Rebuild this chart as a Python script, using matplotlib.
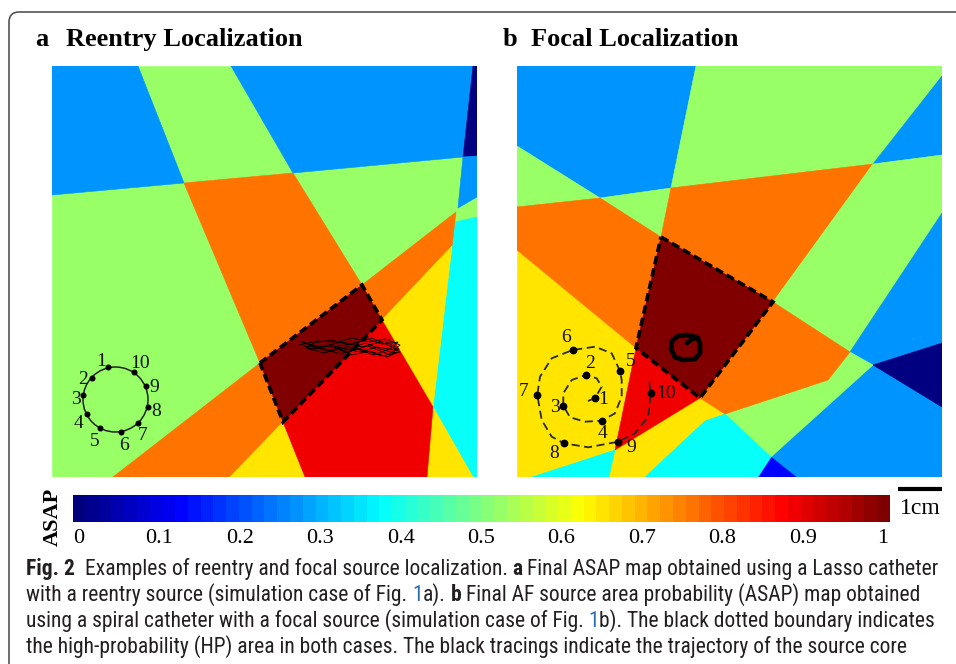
import numpy as np
import matplotlib
matplotlib.use("Agg")
import matplotlib.pyplot as plt
from matplotlib import font_manager
from matplotlib.colors import LinearSegmentedColormap
from matplotlib.patches import Polygon, Circle, FancyBboxPatch

W, H = 956, 664
MAP_W, MAP_H = 425, 411          # map grid size (cells)
CM_CELLS = 44                    # grid cells per centimetre

SERIF = "Liberation Serif"


def pick_caption_font():
    # a narrow sans reads closest to the journal caption face
    entries = font_manager.fontManager.ttflist
    for name in ["Liberation Sans Narrow", "Roboto Condensed", "Open Sans Condensed",
                 "Noto Sans Condensed", "DejaVu Sans Condensed"]:
        if any(f.name == name for f in entries):
            return name, "normal"
    for f in entries:
        if f.name == "DejaVu Sans" and f.stretch in ("condensed", "semi-condensed"):
            return "DejaVu Sans", f.stretch
    return "Roboto", "normal"


CAPTION_FONT, CAPTION_STRETCH = pick_caption_font()

# ── ASAP maps: region outlines (grid coords, y down) and probabilities ────────

REENTRY_POLYS = [
    [(0, 0), (425, 0), (425, 411), (0, 411)],
    [(0, 0), (86, 0), (132, 117), (0, 129)],
    [(179, 0), (421, 0), (411, 91), (241, 107)],
    [(421, 0), (425, 0), (425, 90), (411, 91)],
    [(411, 91), (425, 90), (425, 131), (406, 142)],
    [(403, 156), (425, 151), (425, 411), (421, 411), (381, 341)],
    [(132, 117), (241, 107), (310, 219), (208, 297)],
    [(310, 219), (404, 146), (400, 180), (330, 254)],
    [(61, 411), (208, 297), (231, 356), (178, 411)],
    [(178, 411), (231, 356), (253, 411)],
    [(330, 254), (400, 180), (381, 341)],
    [(381, 341), (421, 411), (375, 411)],
    [(231, 356), (330, 254), (381, 341), (375, 411), (253, 411)],
    [(208, 297), (310, 219), (330, 254), (231, 356)],
]
REENTRY_VALUES = [0.52, 0.27, 0.27, 0.0, 0.27, 0.39, 0.765, 0.765, 0.765,
                  0.65, 0.65, 0.65, 0.89, 1.0]

FOCAL_POLYS = [
    [(0, 0), (425, 0), (425, 411), (0, 411)],
    [(0, 0), (179, 0), (154, 122), (83, 132), (0, 80)],
    [(179, 0), (425, 0), (425, 10), (356, 98), (154, 122)],
    [(425, 10), (425, 89), (356, 98)],
    [(0, 80), (83, 132), (0, 141)],
    [(83, 132), (154, 122), (144, 171)],
    [(0, 141), (83, 132), (144, 171), (119, 282), (0, 184)],
    [(154, 122), (356, 98), (256, 236), (144, 171)],
    [(356, 98), (425, 89), (425, 147), (333, 286), (256, 236)],
    [(333, 286), (425, 147), (425, 411), (240, 411)],
    [(356, 299), (425, 277), (425, 341)],
    [(208, 348), (333, 286), (356, 299), (254, 391)],
    [(241, 411), (254, 391), (279, 411)],
    [(188, 355), (208, 348), (254, 391), (241, 411), (128, 411)],
    [(15, 411), (98, 384), (92, 411)],
    [(256, 236), (333, 286), (311, 314), (208, 348), (183, 332)],
    [(119, 282), (183, 332), (98, 384)],
    [(144, 171), (256, 236), (183, 332), (119, 282)],
]
FOCAL_VALUES = [0.65, 0.27, 0.52, 0.27, 0.52, 0.52, 0.765, 0.765, 0.52,
                0.27, 0.0, 0.52, 0.135, 0.39, 0.39, 0.765, 0.89, 1.0]

# ── catheters ────────────────────────────────────────────────────────────────

LASSO_CENTER = (63.5, 333.5)
LASSO_RADIUS = 32.5
LASSO_X = [56, 39.7, 31, 35, 48, 69, 86, 96, 94, 82]
LASSO_Y = [301, 312, 329, 348, 362, 366, 357, 341, 320, 306]
LASSO_LABEL_X = [49, 31, 24, 27, 43, 72, 91, 104, 102, 88]
LASSO_LABEL_Y = [296, 313, 334, 357, 375, 379, 370, 346, 322, 297]

SPIRAL_X = [71, 78, 84.7, 79.7, 69, 54.7, 46.3, 46.3, 53, 68, 84.7, 98, 104.7,
            104.7, 103, 94.7, 78, 55.7, 34.7, 23, 20.3, 24.7, 34.7, 47, 71.3,
            101.3, 118, 131.3, 133.7, 132]
SPIRAL_Y = [335, 332, 320.7, 312.3, 309, 314, 327.3, 339.7, 351.3, 355.7, 354.7,
            347.3, 330.7, 314, 305, 287.3, 280.7, 284, 292.3, 310.7, 329, 354,
            370.7, 377.3, 381.3, 375.7, 367.3, 350.7, 326.7, 314]
SPIRAL_ELEC_X = [78, 69, 46, 85, 103, 56, 20, 47, 101, 134]
SPIRAL_ELEC_Y = [332, 309, 340, 355, 305, 284, 329, 377, 376, 327]
SPIRAL_LABEL_X = [86, 73, 38, 85, 114, 49, 7, 37, 114, 149]
SPIRAL_LABEL_Y = [334, 297, 341, 367, 296, 271, 325, 387, 381, 328]
ELECTRODE_NAMES = [str(i) for i in range(1, 11)]

# ── source-core trajectories ─────────────────────────────────────────────────

REENTRY_TRACE_X = [247, 265, 285, 300, 318, 333, 348, 342, 325, 308, 290, 272, 255,
                   262, 280, 298, 315, 330, 346, 340, 322, 305, 288, 270, 252, 260,
                   278, 296, 313, 328, 344, 335, 318, 300, 282, 300, 320, 338, 348,
                   330, 312, 295, 275, 258, 250, 268, 290, 310, 332, 347, 336, 316,
                   296, 276, 256]
REENTRY_TRACE_Y = [279, 275, 276, 272, 276, 273, 279, 284, 281, 286, 282, 287, 282,
                   277, 274, 279, 273, 278, 276, 282, 289, 283, 288, 282, 280, 284,
                   279, 284, 277, 283, 287, 291, 285, 289, 281, 278, 272, 280, 286,
                   290, 284, 281, 285, 279, 276, 281, 276, 281, 275, 283, 288, 280,
                   286, 280, 283]
FOCAL_TRACE_X = [179, 170, 161, 155, 154, 158, 166, 178, 183, 183, 181, 175, 170]
FOCAL_TRACE_Y = [271, 269, 270, 275, 283, 291, 294, 293, 287, 278, 272, 273, 277]

# ── colour bar ───────────────────────────────────────────────────────────────

CBAR_TICKS = [0, 0.1, 0.2, 0.3, 0.4, 0.5, 0.6, 0.7, 0.8, 0.9, 1]
CBAR_LABELS = ["0", "0.1", "0.2", "0.3", "0.4", "0.5", "0.6", "0.7", "0.8", "0.9", "1"]

# MATLAB-style jet with 64 levels
jet64 = LinearSegmentedColormap.from_list(
    "jet64",
    [(0, (0, 0, 0.5)), (1 / 8, (0, 0, 1)), (3 / 8, (0, 1, 1)),
     (5 / 8, (1, 1, 0)), (7 / 8, (1, 0, 0)), (1, (0.5, 0, 0))],
    N=64,
)

fig = plt.figure(figsize=(W / 100, H / 100), dpi=100)


def px_axes(x0, y0, x1, y1, **kw):
    return fig.add_axes([x0 / W, 1 - y1 / H, (x1 - x0) / W, (y1 - y0) / H], **kw)


def fx(x):
    return x / W


def fy(y):
    return 1 - y / H


# rounded frame around the figure
bg = px_axes(0, 0, W, H)
bg.set_xlim(0, W)
bg.set_ylim(H, 0)
bg.set_axis_off()
bg.add_patch(FancyBboxPatch((9, 12), 1000, 700, boxstyle="round,pad=0,rounding_size=10",
                            facecolor="none", edgecolor="#555555", lw=1.2))


def draw_map(ax, polys, values, cmap):
    ax.set_xlim(0, MAP_W)
    ax.set_ylim(MAP_H, 0)
    ax.set_axis_off()
    for verts, v in zip(polys, values):
        c = cmap(v)
        ax.add_patch(Polygon(verts, closed=True, facecolor=c, edgecolor=c, lw=0.4))
    # high-probability area boundary
    ax.add_patch(Polygon(polys[-1], closed=True, fill=False, edgecolor="black",
                         lw=2.6, linestyle=(0, (2.3, 1.2)), zorder=5))


# ── panel a ──────────────────────────────────────────────────────────────────

ax_a = px_axes(52, 66, 477, 477)
draw_map(ax_a, REENTRY_POLYS, REENTRY_VALUES, jet64)
ax_a.plot(REENTRY_TRACE_X, REENTRY_TRACE_Y, color="black", lw=0.6, zorder=6)
ax_a.add_patch(Circle(LASSO_CENTER, LASSO_RADIUS, fill=False, edgecolor="#222222",
                      lw=1.1, zorder=6))
ax_a.plot(LASSO_X, LASSO_Y, "o", color="black", ms=3.3, zorder=7)
for lx, ly, name in zip(LASSO_LABEL_X, LASSO_LABEL_Y, ELECTRODE_NAMES):
    ax_a.text(lx, ly, name, ha="center", va="center", fontsize=14,
              family=SERIF, color="#111111", zorder=8)

# ── panel b ──────────────────────────────────────────────────────────────────

ax_b = px_axes(517, 66, 942, 477)
draw_map(ax_b, FOCAL_POLYS, FOCAL_VALUES, jet64)
ax_b.plot(FOCAL_TRACE_X, FOCAL_TRACE_Y, color="black", lw=3.4, zorder=6,
          solid_capstyle="round", solid_joinstyle="round")
ax_b.plot(SPIRAL_X, SPIRAL_Y, color="#2a2a2a", lw=1.3, linestyle=(0, (4.5, 2.5)), zorder=6)
ax_b.plot(SPIRAL_ELEC_X, SPIRAL_ELEC_Y, "o", color="black", ms=4.6, zorder=7)
for lx, ly, name in zip(SPIRAL_LABEL_X, SPIRAL_LABEL_Y, ELECTRODE_NAMES):
    ax_b.text(lx, ly, name, ha="center", va="center", fontsize=14,
              family=SERIF, color="#111111", zorder=8)

# 1 cm scale bar under panel b
ax_b.plot([MAP_W - CM_CELLS, MAP_W], [423, 423], color="black", lw=3,
          solid_capstyle="butt", clip_on=False)
ax_b.text(MAP_W - CM_CELLS / 2, 442, "1cm", ha="center", va="center",
          fontsize=17, family=SERIF, clip_on=False)

# ── panel titles ─────────────────────────────────────────────────────────────

for x_letter, x_title, letter, title in [(35, 66, "a", "Reentry Localization"),
                                         (503, 531, "b", "Focal Localization")]:
    fig.text(fx(x_letter), fy(46), letter, fontsize=19, fontweight="bold",
             family=SERIF, va="baseline")
    fig.text(fx(x_title), fy(46), title, fontsize=19, fontweight="bold",
             family=SERIF, va="baseline")

# ── colour bar ───────────────────────────────────────────────────────────────

cax = px_axes(73, 495, 890, 522)
lo, hi = -0.0075, 1.0087
cax.imshow(np.linspace(0, 1, 64)[None, :], cmap=jet64, aspect="auto",
           extent=(lo, hi, 0, 1), interpolation="nearest")
cax.set_xlim(lo, hi)
cax.set_xticks(CBAR_TICKS)
cax.set_xticklabels(CBAR_LABELS, family=SERIF, fontsize=16)
cax.set_yticks([])
cax.tick_params(axis="x", length=0, pad=5)
for s in cax.spines.values():
    s.set_visible(False)
fig.text(fx(53), fy(517), "ASAP", rotation=90, ha="center", va="center",
         fontsize=16, fontweight="bold", family=SERIF)

# ── caption ──────────────────────────────────────────────────────────────────

LINK = "#2f6db5"
INK = "#231f20"
CAPTION = [
    [("Fig. 2", True, INK, 0), ("Examples of reentry and focal source localization.", False, INK, 2),
     ("a", True, INK, 1), ("Final ASAP map obtained using a Lasso catheter", False, INK, 1)],
    [("with a reentry source (simulation case of Fig.", False, INK, 0), ("1", False, LINK, 1),
     ("a).", False, INK, 0), ("b", True, INK, 1),
     ("Final AF source area probability (ASAP) map obtained", False, INK, 1)],
    [("using a spiral catheter with a focal source (simulation case of Fig.", False, INK, 0),
     ("1", False, LINK, 1), ("b). The black dotted boundary indicates", False, INK, 0)],
    [("the high-probability (HP) area in both cases. The black tracings indicate the "
      "trajectory of the source core", False, INK, 0)],
]
CAPTION_X = 26
CAPTION_BASELINES = [575, 601, 627, 653]
renderer = fig.canvas.get_renderer()


def caption_text(x, y, s, size, bold=False, color=INK):
    return fig.text(x, y, s, fontsize=size, family=CAPTION_FONT, fontstretch=CAPTION_STRETCH,
                    fontweight="bold" if bold else "normal", color=color, va="baseline")


def text_width(s, size, bold=False):
    t = caption_text(0, 0, s, size, bold)
    w = t.get_window_extent(renderer).width
    t.remove()
    return w


# scale the caption so its last line spans the text block
cap_size = 10 * (905 - CAPTION_X) / text_width(CAPTION[3][0][0], 10)
space_w = text_width("x x", cap_size) - text_width("xx", cap_size)

for runs, base in zip(CAPTION, CAPTION_BASELINES):
    x = CAPTION_X
    for s, bold, color, gap in runs:
        x += gap * space_w
        t = caption_text(fx(x), fy(base), s, cap_size, bold, color)
        x += t.get_window_extent(renderer).width

fig.savefig("out.png", dpi=100)
